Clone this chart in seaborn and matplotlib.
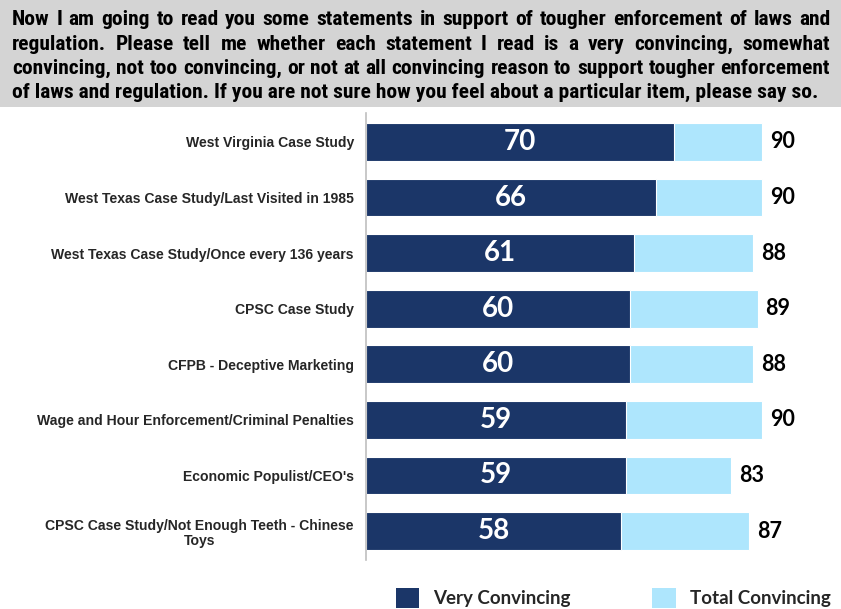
import matplotlib
matplotlib.use("Agg")
import matplotlib.pyplot as plt
from matplotlib import font_manager
from matplotlib.patches import Patch
import pandas as pd
import seaborn as sns

# ---- data ----
statements = [
    "West Virginia Case Study",
    "West Texas Case Study/Last Visited in 1985",
    "West Texas Case Study/Once every 136 years",
    "CPSC Case Study",
    "CFPB - Deceptive Marketing",
    "Wage and Hour Enforcement/Criminal Penalties",
    "Economic Populist/CEO's",
    "CPSC Case Study/Not Enough Teeth - Chinese\nToys",
]
very_convincing = [70, 66, 61, 60, 60, 59, 59, 58]
total_convincing = [90, 90, 88, 89, 88, 90, 83, 87]
legend_labels = ["Very Convincing", "Total Convincing"]

question_lines = [
    "Now I am going to read you some statements in support of tougher enforcement of laws and",
    "regulation. Please tell me whether each statement I read is a very convincing, somewhat",
    "convincing, not too convincing, or not at all convincing reason to support tougher enforcement",
    "of laws and regulation. If you are not sure how you feel about a particular item, please say so.",
]

DARK = "#1B3668"
LIGHT = "#AEE6FD"
GREY_BOX = "#D4D4D4"

installed = {f.name for f in font_manager.fontManager.ttflist}


def pick(*names):
    for n in names:
        if n in installed:
            return n
    return "DejaVu Sans"


NARROW = pick("Liberation Sans Narrow", "Roboto Condensed", "Open Sans Condensed", "Lato")
NUMFONT = pick("Lato", "Open Sans", "DejaVu Sans")
LABELFONT = pick("Liberation Sans", "Arimo", "DejaVu Sans")

sns.set_theme(style="white")
plt.rcParams["font.family"] = [LABELFONT, "DejaVu Sans"]

W, H = 841, 609
fig = plt.figure(figsize=(W / 100, H / 100), dpi=100)

# ---- question header box ----
fig.patches.append(plt.Rectangle((0, 1 - 107 / H), 1, 107 / H, transform=fig.transFigure,
                                 facecolor=GREY_BOX, edgecolor="none", zorder=0))

renderer = fig.canvas.get_renderer()
x_left, x_right = 12, 830
last_line_right = 818
baselines = [25, 50, 74, 98]


def text_width(s, size):
    t = fig.text(0, 0, s, fontsize=size, fontweight="bold", family=NARROW)
    w = t.get_window_extent(renderer).width
    t.remove()
    return w


# size the header so the closing (unjustified) line spans its full width
base = 12.5
size = base * (last_line_right - x_left) / text_width(question_lines[-1], base)
while max(text_width(l, size) for l in question_lines[:-1]) > (x_right - x_left) and size > 8:
    size -= 0.25

for i, (line, yb) in enumerate(zip(question_lines, baselines)):
    if i == len(question_lines) - 1:
        fig.text(x_left / W, 1 - yb / H, line, fontsize=size, fontweight="bold", family=NARROW,
                 color="black", va="baseline", ha="left")
        continue
    words = line.split()
    ws = [text_width(w, size) for w in words]
    gap = (x_right - x_left - sum(ws)) / (len(words) - 1)
    x = x_left
    for w, wd in zip(words, ws):
        fig.text(x / W, 1 - yb / H, w, fontsize=size, fontweight="bold", family=NARROW,
                 color="black", va="baseline", ha="left")
        x += wd + gap

# ---- bars ----
df = pd.DataFrame({
    "statement": statements,
    "very": very_convincing,
    "total": total_convincing,
})

ax = fig.add_axes([366 / W, 1 - 560 / H, 440 / W, (560 - 113) / H])
sns.barplot(data=df, y="statement", x="total", color=LIGHT, saturation=1, width=0.68,
            edgecolor="white", linewidth=0.8, ax=ax)
sns.barplot(data=df, y="statement", x="very", color=DARK, saturation=1, width=0.68,
            edgecolor="white", linewidth=0.8, ax=ax)

ax.set_xlim(0, 100)
ax.set_ylim(7.52, -0.52)
ax.set_xlabel("")
ax.set_ylabel("")
ax.set_xticks([])
for s in ["top", "right", "bottom"]:
    ax.spines[s].set_visible(False)
ax.spines["left"].set_color("#BFBFBF")
ax.spines["left"].set_linewidth(1.2)
ax.tick_params(axis="y", length=0, pad=8.7)
for t in ax.get_yticklabels():
    t.set_fontsize(10.1)
    t.set_fontweight("bold")
    t.set_family(LABELFONT)
    t.set_multialignment("center")
    t.set_linespacing(1.15)

for i, (v, tot) in enumerate(zip(very_convincing, total_convincing)):
    ax.text(v / 2, i, str(v), ha="center", va="center", color="white",
            fontsize=20, fontweight="bold", family=NUMFONT)
    ax.text(tot + 1.8, i, str(tot), ha="left", va="center", color="black",
            fontsize=15.5, fontweight="bold", family=NUMFONT)

# ---- legend ----
handles = [Patch(facecolor=DARK, edgecolor="none"), Patch(facecolor=LIGHT, edgecolor="none")]
fig.legend(handles, legend_labels, loc="upper left", ncol=2, frameon=False,
           bbox_to_anchor=(396 / W, 1 - 588 / H), borderpad=0, borderaxespad=0,
           prop={"family": NUMFONT, "weight": "bold", "size": 13.5},
           handlelength=1.25, handleheight=1.25, handletextpad=0.75, columnspacing=4.33)

fig.savefig("out.png", dpi=100)
